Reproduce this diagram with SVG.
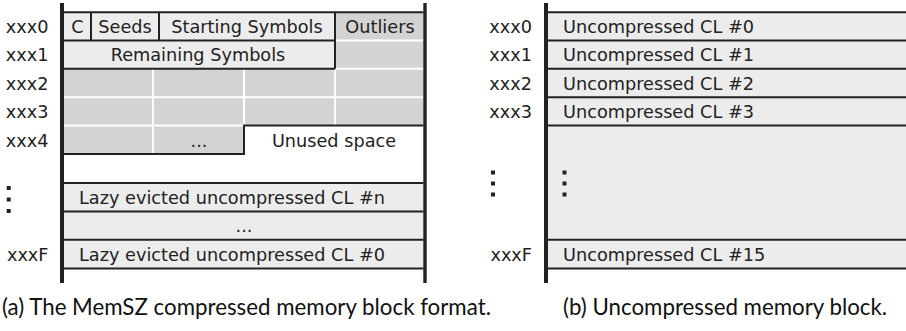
<svg xmlns="http://www.w3.org/2000/svg" width="906" height="331" viewBox="0 0 906 331">
<style>
.t{font-family:"DejaVu Sans",sans-serif;font-size:17.7px;fill:#222}
.c{text-anchor:middle}
.e{text-anchor:end}
.cap{font-family:Lato,"Open Sans",sans-serif;font-size:22.3px;fill:#111}
.lt{fill:#ececec}
.gr{fill:#d3d3d4}
.dk{stroke:#222;stroke-width:2;fill:none}
.wl{stroke:#fff;stroke-width:2;fill:none}
.ax{fill:#222}
.dot{fill:#222}
</style>
<rect width="906" height="331" fill="#fff"/>

<!-- (a) compressed block -->
<g id="compressed-block">
  <g id="grey-area">
    <path class="gr" d="M335,12 H423.5 V125.6 H244 V154 H64 V68.8 H335 Z"/>
    <path class="wl" d="M335,40.4 H423.5 M335,68.8 H423.5 M64,97.2 H423.5 M64,125.6 H244 M153,68.8 V154 M244,68.8 V125.6 M335,68.8 V125.6"/>
  </g>
  <g id="cell-c"><rect class="lt" x="64" y="12" width="27" height="28.4"/><text class="t c" x="77.5" y="33">C</text></g>
  <g id="cell-seeds"><rect class="lt" x="91" y="12" width="68" height="28.4"/><text class="t c" x="125" y="33">Seeds</text></g>
  <g id="cell-starting"><rect class="lt" x="159" y="12" width="176" height="28.4"/><text class="t c" x="247" y="33">Starting Symbols</text></g>
  <g id="cell-outliers"><text class="t c" x="380" y="33">Outliers</text></g>
  <g id="cell-remaining"><rect class="lt" x="64" y="40.4" width="271" height="28.4"/><text class="t c" x="198" y="61.4">Remaining Symbols</text></g>
  <g id="cell-dots"><text class="t c" x="199" y="146.6">...</text></g>
  <g id="cell-unused"><text class="t c" x="334" y="146.6">Unused space</text></g>
  <g id="lazy-n"><rect class="lt" x="64" y="183" width="359.5" height="28.4"/><text class="t" x="79" y="204">Lazy evicted uncompressed CL #n</text></g>
  <g id="lazy-mid"><rect class="lt" x="64" y="211.4" width="359.5" height="28.4"/><text class="t c" x="244" y="232.4">...</text></g>
  <g id="lazy-0"><rect class="lt" x="64" y="239.8" width="359.5" height="28.4"/><text class="t" x="79" y="260.8">Lazy evicted uncompressed CL #0</text></g>
  <g id="labels-a">
    <text class="t e" x="48.5" y="33">xxx0</text>
    <text class="t e" x="48.5" y="61.4">xxx1</text>
    <text class="t e" x="48.5" y="89.8">xxx2</text>
    <text class="t e" x="48.5" y="118.2">xxx3</text>
    <text class="t e" x="48.5" y="146.6">xxx4</text>
    <text class="t e" x="48.5" y="260.8">xxxF</text>
    <rect class="dot" x="6.7" y="186" width="4" height="4"/>
    <rect class="dot" x="6.7" y="197.5" width="4" height="4"/>
    <rect class="dot" x="6.7" y="209" width="4" height="4"/>
  </g>
</g>

<!-- (b) uncompressed block -->
<g id="uncompressed-block">
  <rect class="lt" x="548" y="12" width="358" height="256.2"/>
  <g id="ucl-0"><text class="t" x="563" y="33">Uncompressed CL #0</text></g>
  <g id="ucl-1"><text class="t" x="563" y="61.4">Uncompressed CL #1</text></g>
  <g id="ucl-2"><text class="t" x="563" y="89.8">Uncompressed CL #2</text></g>
  <g id="ucl-3"><text class="t" x="563" y="118.2">Uncompressed CL #3</text></g>
  <g id="ucl-15"><text class="t" x="563" y="260.8">Uncompressed CL #15</text></g>
  <g id="labels-b">
    <text class="t e" x="532" y="33">xxx0</text>
    <text class="t e" x="532" y="61.4">xxx1</text>
    <text class="t e" x="532" y="89.8">xxx2</text>
    <text class="t e" x="532" y="118.2">xxx3</text>
    <text class="t e" x="532" y="260.8">xxxF</text>
    <rect class="dot" x="491" y="170.5" width="4" height="4"/>
    <rect class="dot" x="491" y="181.5" width="4" height="4"/>
    <rect class="dot" x="491" y="192.5" width="4" height="4"/>
    <rect class="dot" x="562.5" y="170.5" width="4" height="4"/>
    <rect class="dot" x="562.5" y="181.5" width="4" height="4"/>
    <rect class="dot" x="562.5" y="192.5" width="4" height="4"/>
  </g>
</g>

<g id="connectors">
  <!-- (a) borders -->
  <path class="dk" d="M91,12 V40.4 M159,12 V40.4 M335,12 V68.8 M64,40.4 H335 M64,68.8 H335"/>
  <path class="dk" d="M423.5,125.6 H244 V154 H64"/>
  <path class="dk" d="M64,183 H423.5 M64,211.4 H423.5 M64,239.8 H423.5"/>
  <path class="dk" stroke-width="2.6" d="M64,12.2 H423.5 M64,268.4 H423.5"/>
  <!-- (b) borders -->
  <path class="dk" d="M548,40.4 H906 M548,68.8 H906 M548,97.2 H906 M548,125.6 H906 M548,239.8 H906"/>
  <path class="dk" stroke-width="2.6" d="M548,12.2 H906 M548,268.4 H906"/>
  <!-- axes -->
  <rect class="ax" x="60" y="3" width="4" height="280"/>
  <rect class="ax" x="423.3" y="3" width="3.4" height="280"/>
  <rect class="ax" x="544" y="3" width="4" height="280"/>
</g>

<text class="cap" x="2" y="315">(a) The MemSZ compressed memory block format.</text>
<text class="cap" x="563" y="315">(b) Uncompressed memory block.</text>
</svg>
